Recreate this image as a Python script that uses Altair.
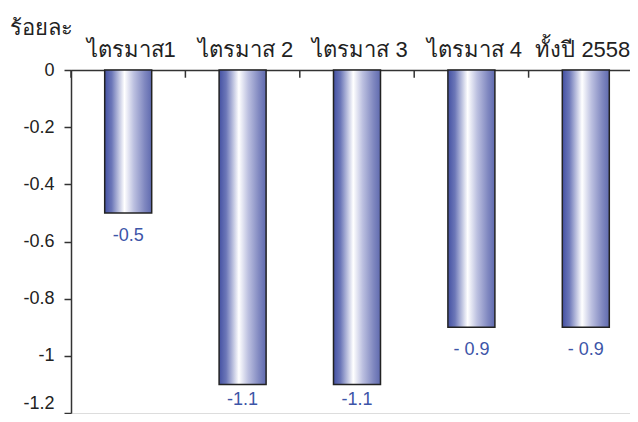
import altair as alt
import pandas as pd

categories = ["ไตรมาส1", "ไตรมาส 2", "ไตรมาส 3", "ไตรมาส 4", "ทั้งปี 2558"]
values = [-0.5, -1.1, -1.1, -0.9, -0.9]
value_labels = ["-0.5", "-1.1", "-1.1", "- 0.9", "- 0.9"]
y_ticks = [0, -0.2, -0.4, -0.6, -0.8, -1.0, -1.2]

df = pd.DataFrame({"cat": categories, "val": values, "lab": value_labels})

FONT = "Liberation Sans"
xscale = alt.Scale(domain=categories, paddingInner=0, paddingOuter=0, range=[0, 572])
yscale = alt.Scale(domain=[-1.2, 0], nice=False, zero=False)

grad = alt.Gradient(
    gradient="linear",
    x1=0, x2=1, y1=0, y2=0,
    stops=[
        alt.GradientStop(color="#4451a3", offset=0),
        alt.GradientStop(color="#6c77b8", offset=0.15),
        alt.GradientStop(color="#ffffff", offset=0.42),
        alt.GradientStop(color="#bcc0e0", offset=0.62),
        alt.GradientStop(color="#8088c0", offset=0.85),
        alt.GradientStop(color="#5f6aaf", offset=1),
    ],
)

base = alt.Chart(df)

bars = base.mark_bar(width=47, fill=grad, stroke="#222222", strokeWidth=1.5).encode(
    x=alt.X("cat:N", scale=xscale, sort=categories,
            axis=alt.Axis(orient="top", title=None, labelAngle=0, ticks=False,
                          labelFontSize=22, labelFont=FONT, labelColor="#222222",
                          labelPadding=9, domainColor="#333333", domainWidth=1.5,
                          labelOffset=alt.condition("datum.value == 'ทั้งปี 2558'",
                                                    alt.value(-3), alt.value(3)))),
    y=alt.Y("val:Q", scale=yscale,
            axis=alt.Axis(values=y_ticks, grid=False, tickSize=7, tickColor="#333333",
                          tickWidth=1.5, domainColor="#333333", domainWidth=1.5,
                          labelFontSize=18, labelFont=FONT, labelColor="#222222",
                          labelPadding=10,
                          labelExpr="datum.value == 0 ? '0' : '-' + format(-datum.value, '~g')",
                          labelOffset=alt.condition("datum.value < -1.15", alt.value(-10), alt.value(0)),
                          title="ร้อยละ", titleAngle=0, titleX=-30, titleY=-43,
                          titleAlign="center", titleBaseline="middle",
                          titleFontSize=22, titleFontWeight="normal", titleFont=FONT,
                          titleColor="#222222")),
    y2=alt.datum(0),
)

text_enc = dict(
    x=alt.X("cat:N", scale=xscale, sort=categories),
    y=alt.Y("val:Q", scale=yscale),
    text="lab:N",
)

texts_upper = base.transform_filter("datum.val >= -1").mark_text(
    baseline="top", dy=14, fontSize=18, font=FONT, color="#3d55a8").encode(**text_enc)

texts_lower = base.transform_filter("datum.val < -1").mark_text(
    baseline="top", dy=7, fontSize=18, font=FONT, color="#3d55a8").encode(**text_enc)

ticks = base.mark_rule(color="#333333", strokeWidth=1.5).encode(
    x=alt.X("cat:N", scale=xscale, sort=categories, bandPosition=0),
    y=alt.datum(0),
    y2=alt.datum(-0.027),
)

chart = alt.layer(bars, ticks, texts_upper, texts_lower).properties(
    width=559, height=343,
    autosize=alt.AutoSizeParams(type="none"),
    padding={"left": 63, "top": 62, "right": 0, "bottom": 1},
).configure_view(stroke=None).configure(background="white")

chart.save("out.html", embed_options={"renderer": "svg", "actions": False})
